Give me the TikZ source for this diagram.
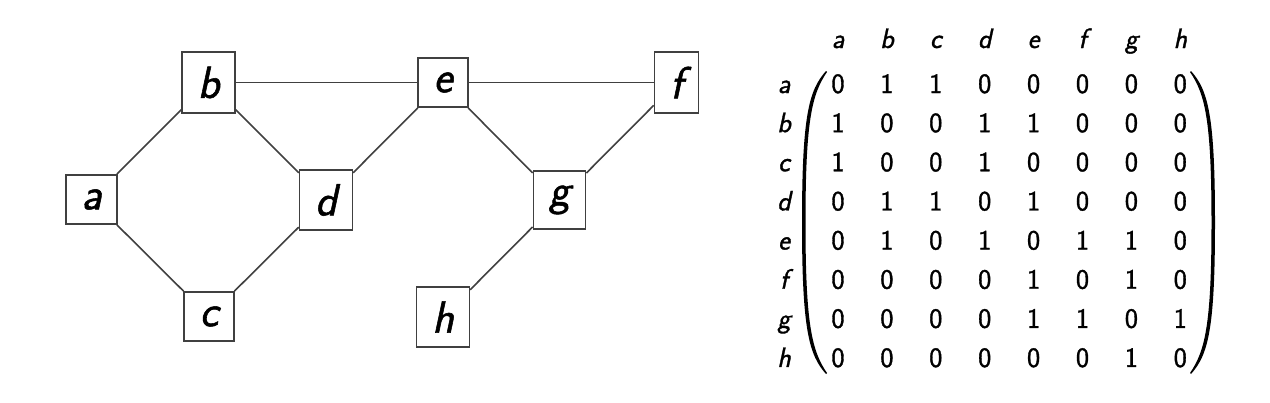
\documentclass[tikz,border=0pt]{standalone}
\usepackage{fontspec}
\newfontfamily\gsans{Latin Modern Sans}[FakeBold=1.2]
\begin{document}
\begin{tikzpicture}[x=1pt,y=-1pt,
  vbox/.style={draw=black!75, line width=1.6pt, fill=white, font=\fontsize{45}{50}\selectfont\gsans\itshape, inner xsep=15.5pt, inner ysep=14.5pt},
  edge/.style={draw=black!75, line width=1.6pt},
  mtxt/.style={font=\fontsize{28}{32}\selectfont\gsans, anchor=base, inner sep=0pt},
  mlab/.style={font=\fontsize{28}{32}\selectfont\gsans\itshape, anchor=base, inner sep=0pt},
  parenfill/.style={fill=black, draw=none}]
\useasboundingbox (0,0) rectangle (1270,402);
% graph
\node[vbox] (a) at (91.5,199.5) {a};
\node[vbox] (b) at (208.5,82.5) {b};
\node[vbox] (c) at (209,316.5) {c};
\node[vbox] (d) at (326,200) {d};
\node[vbox] (e) at (443,82.5) {e};
\node[vbox] (f) at (676.5,82.5) {f};
\node[vbox] (g) at (559.5,200) {g};
\node[vbox] (h) at (443,317) {h};
\draw[edge] (a) -- (b);
\draw[edge] (a) -- (c);
\draw[edge] (b) -- (d);
\draw[edge] (c) -- (d);
\draw[edge] (d) -- (e);
\draw[edge] (b) -- (e);
\draw[edge] (e) -- (f);
\draw[edge] (e) -- (g);
\draw[edge] (f) -- (g);
\draw[edge] (g) -- (h);
% matrix
\foreach \l [count=\j from 0] in {a,b,c,d,e,f,g,h} {
  \node[mlab] (col\l) at ({838+48.9*\j},48) {\l};
  \node[mlab] (row\l) at (784,{93+39.14*\j}) {\l};
}
\foreach \r [count=\i from 0] in {
  {0,1,1,0,0,0,0,0},
  {1,0,0,1,1,0,0,0},
  {1,0,0,1,0,0,0,0},
  {0,1,1,0,1,0,0,0},
  {0,1,0,1,0,1,1,0},
  {0,0,0,0,1,0,1,0},
  {0,0,0,0,1,1,0,1},
  {0,0,0,0,0,0,1,0}} {
  \foreach \v [count=\j from 0] in \r {
    \node[mtxt] (m\i-\j) at ({838+48.9*\j},{93+39.14*\i}) {\v};
  }
}
% parentheses
\path[parenfill] (826,71) .. controls (809,90) and (802,115) .. (802,222.5)
  .. controls (802,330) and (809,355) .. (826,374)
  -- (827,373) .. controls (812,351) and (805.5,325) .. (805.5,222.5)
  .. controls (805.5,120) and (812,94) .. (827,72) -- cycle;
\begin{scope}[xshift=2017pt, xscale=-1]
\path[parenfill] (826,71) .. controls (809,90) and (802,115) .. (802,222.5)
  .. controls (802,330) and (809,355) .. (826,374)
  -- (827,373) .. controls (812,351) and (805.5,325) .. (805.5,222.5)
  .. controls (805.5,120) and (812,94) .. (827,72) -- cycle;
\end{scope}
\end{tikzpicture}
\end{document}
